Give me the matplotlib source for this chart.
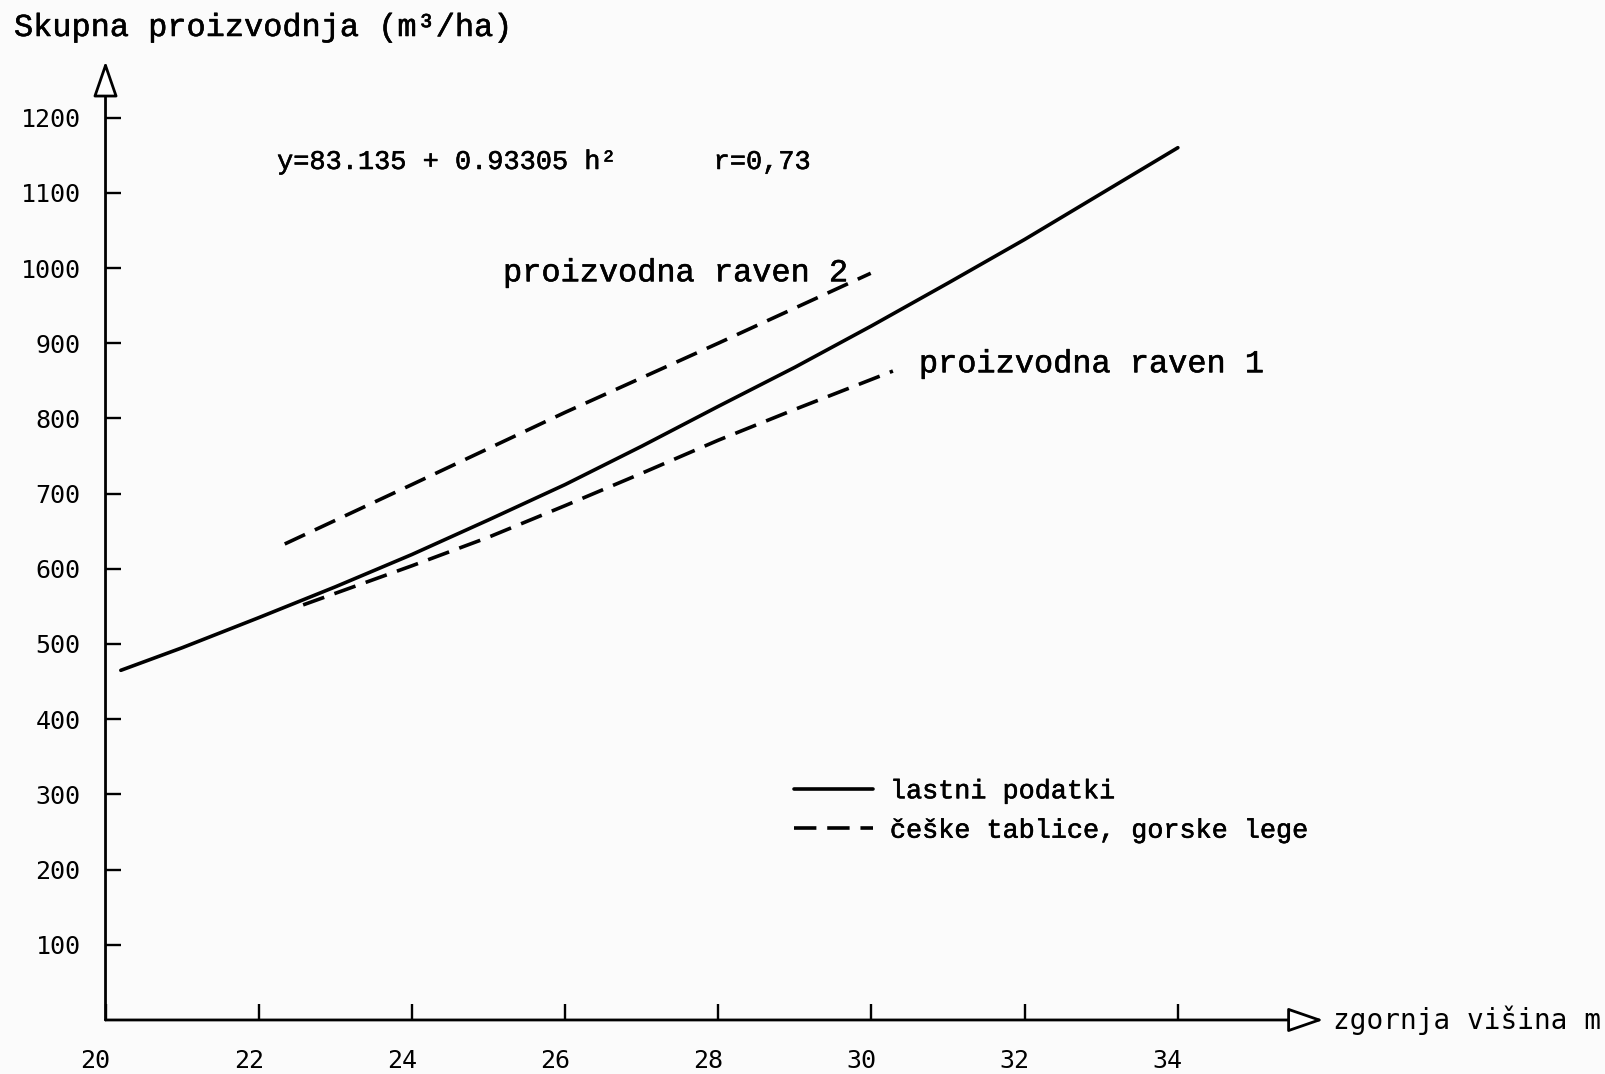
import matplotlib
matplotlib.use('Agg')
import matplotlib.pyplot as plt
import matplotlib.transforms as mtransforms
import matplotlib.patheffects as pe

# lastni podatki (polna crta)
h_lastni = [20.2, 21, 22, 23, 24, 25, 26, 27, 28, 29, 30, 31, 32, 33, 34.0]
v_lastni = [465, 495, 535, 576, 619, 665, 712, 763, 816, 868, 923, 980, 1038, 1099, 1160]

# ceske tablice, proizvodna raven 2 (zgornja crtkana)
h_raven2 = [22.34, 24, 26, 28, 29.99]
v_raven2 = [633, 712, 808, 900, 993]

# ceske tablice, proizvodna raven 1 (spodnja crtkana)
h_raven1 = [22.58, 24, 25, 26, 27, 28, 29, 30.28]
v_raven1 = [552, 604, 642, 684, 727, 771, 812, 863]

x_ticks = [20, 22, 24, 26, 28, 30, 32, 34]
y_ticks = [100, 200, 300, 400, 500, 600, 700, 800, 900, 1000, 1100, 1200]

mono = 'Liberation Mono'
sans_mono = 'DejaVu Sans Mono'
ink = [pe.withStroke(linewidth=0.4, foreground='black')]

fig = plt.figure(figsize=(16.06, 10.74), dpi=100, facecolor='#fbfbfb')
ax = fig.add_axes([0.0657, 0.0503, 0.7631, 0.9102])
ax.set_facecolor('none')
ax.set_xlim(20, 36)
ax.set_ylim(0, 1300)
for s in ax.spines.values():
    s.set_visible(False)

ax.plot(h_lastni, v_lastni, color='black', lw=2.6, solid_capstyle='round',
        label='lastni podatki')
ax.plot(h_raven2, v_raven2, color='black', lw=2.6, dashes=(6.2, 3.0),
        label='češke tablice, gorske lege')
ax.plot(h_raven1, v_raven1, color='black', lw=2.6, dashes=(6.2, 3.0))

# osi s puscicami
arrow = dict(arrowstyle='-|>,head_length=1.1,head_width=0.38', mutation_scale=20,
             fc='white', ec='black', lw=2.0, shrinkA=0, shrinkB=0)
ax.annotate('', xy=(20, 1275), xytext=(20, 0), arrowprops=arrow, annotation_clip=False)
ax.annotate('', xy=(35.9, 0), xytext=(20, 0), arrowprops=arrow, annotation_clip=False)

ax.set_xticks(x_ticks)
ax.set_xticklabels([str(t) for t in x_ticks])
ax.set_yticks(y_ticks)
ax.set_yticklabels([str(t) for t in y_ticks])
ax.tick_params(axis='x', direction='in', length=11.5, width=1.7, pad=21,
               labelsize=18, bottom=True)
ax.tick_params(axis='y', direction='in', length=10.8, width=1.7, pad=18,
               labelsize=18, left=True)
for lab in ax.get_xticklabels() + ax.get_yticklabels():
    lab.set_family(sans_mono)
off = mtransforms.ScaledTranslation(-10 / 100, 0, fig.dpi_scale_trans)
for lab in ax.get_xticklabels():
    lab.set_transform(lab.get_transform() + off)

ax.annotate('zgornja višina m', xy=(35.9, 0), xytext=(10, 0), textcoords='offset pixels',
            va='center', ha='left', fontsize=20, family=sans_mono, annotation_clip=False)
fig.text(14 / 1606, 1 - 28 / 1074, 'Skupna proizvodnja (m³/ha)', va='center', ha='left',
         fontsize=23, family=mono, path_effects=ink)

ax.text(22.24, 1141, 'y=83.135 + 0.93305 h²      r=0,73', va='center', ha='left',
        fontsize=19.4, family=mono, path_effects=ink)
ax.text(25.19, 993, 'proizvodna raven 2', va='center', ha='left', fontsize=23, family=mono,
        path_effects=ink)
ax.text(30.62, 872, 'proizvodna raven 1', va='center', ha='left', fontsize=23, family=mono,
        path_effects=ink)

leg = ax.legend(loc='center left', bbox_to_anchor=(794 / 1606, 1 - 811 / 1074),
                bbox_transform=fig.transFigure, frameon=False, borderpad=0,
                borderaxespad=0, handlelength=2.95, handletextpad=0.63,
                labelspacing=0.5, prop={'family': mono, 'size': 19.3})
for t in leg.get_texts():
    t.set_path_effects(ink)

fig.savefig('out.png', dpi=100, facecolor=fig.get_facecolor())
